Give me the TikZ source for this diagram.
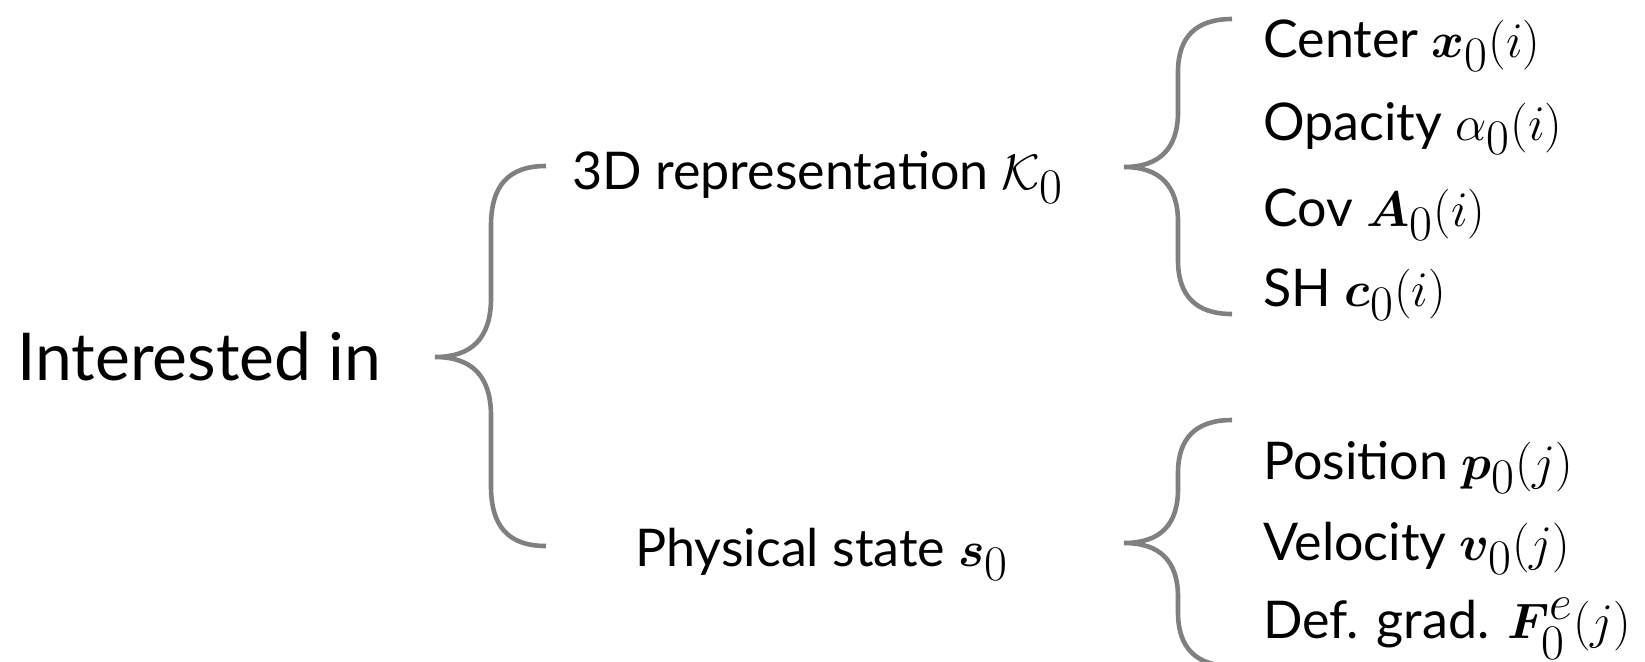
\documentclass[tikz,border=0pt]{standalone}
\usepackage{amsmath}
\usepackage{bm}
\usepackage{fontspec}
\setmainfont{Lato}
\DeclareMathSizes{26}{32}{24}{18}
\begin{document}
\begin{tikzpicture}[x=0.5pt,y=-0.5pt,
  bracestyle/.style={draw=black!50,line width=2.3pt,line cap=butt},
  rootlbl/.style={anchor=base west,inner sep=0pt,font=\fontsize{33}{36}\selectfont},
  lbl/.style={anchor=base west,inner sep=0pt,font=\fontsize{26}{30}\selectfont}]
\useasboundingbox (0,0) rectangle (1645,661);
% text nodes
\node[rootlbl] (root) at (17,380) {Interested in};
\node[lbl] (rep) at (572,189) {3D representation $\mathcal{K}_0$};
\node[lbl] (phys) at (635,566) {Physical state $\bm{s}_0$};
\node[lbl] (center) at (1263,57) {Center $\bm{x}_0(i)$};
\node[lbl] (opac) at (1263,140) {Opacity $\alpha_0(i)$};
\node[lbl] (cov) at (1263,226) {Cov $\bm{A}_0(i)$};
\node[lbl] (sh) at (1263,306) {SH $\bm{c}_0(i)$};
\node[lbl] (pos) at (1263,479) {Position $\bm{p}_0(j)$};
\node[lbl] (vel) at (1263,560) {Velocity $\bm{v}_0(j)$};
\node[lbl] (defg) at (1263,638) {Def. grad. $\bm{F}^{e}_0(j)$};
% brace anchor coordinates
\coordinate (bA1) at (546,166);
\coordinate (bA2) at (435,357);
\coordinate (bA3) at (546,546);
\coordinate (bB1) at (1232,19);
\coordinate (bB2) at (1124,167);
\coordinate (bB3) at (1232,314);
\coordinate (bC1) at (1232,420);
\coordinate (bC2) at (1124,543);
\coordinate (bC3) at (1232,666);
% big brace
\draw[bracestyle] (bA1) .. controls (508,166) and (491,186) .. (491,226)
  -- (491,298) .. controls (491,338) and (472,357) .. (bA2)
  .. controls (472,357) and (491,376) .. (491,416)
  -- (491,486) .. controls (491,526) and (508,546) .. (bA3);
% upper right brace
\draw[bracestyle] (bB1) .. controls (1196,19) and (1178,37) .. (1178,72)
  -- (1178,112) .. controls (1178,148) and (1160,167) .. (bB2)
  .. controls (1160,167) and (1178,186) .. (1178,222)
  -- (1178,260) .. controls (1178,296) and (1196,314) .. (bB3);
% lower right brace
\draw[bracestyle] (bC1) .. controls (1196,420) and (1178,438) .. (1178,473)
  -- (1178,489) .. controls (1178,525) and (1160,543) .. (bC2)
  .. controls (1160,543) and (1178,561) .. (1178,597)
  -- (1178,612) .. controls (1178,648) and (1196,666) .. (bC3);
\end{tikzpicture}
\end{document}
